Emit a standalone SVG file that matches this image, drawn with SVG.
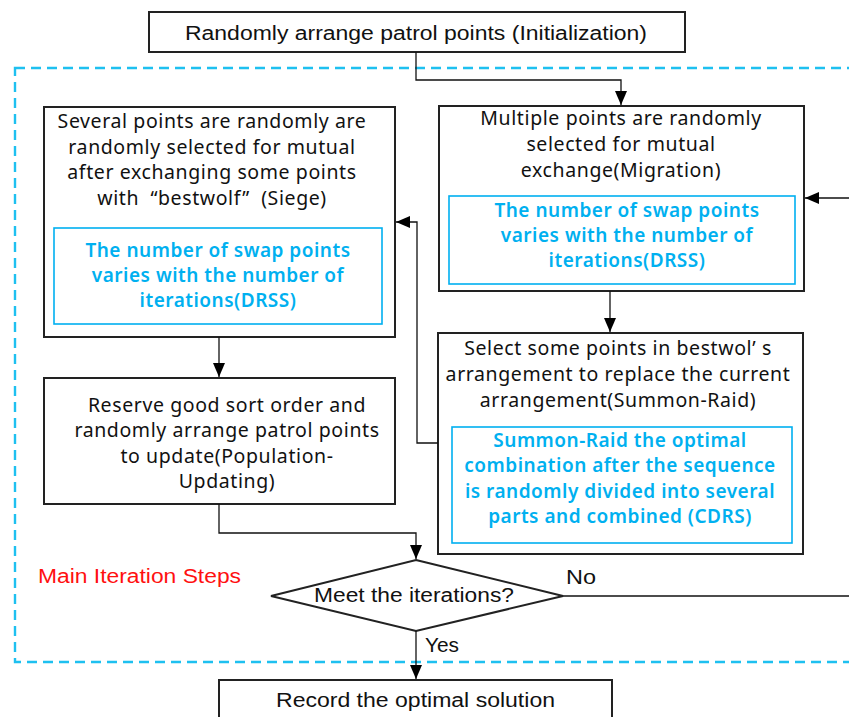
<svg xmlns="http://www.w3.org/2000/svg" width="849" height="717" viewBox="0 0 849 717">
<style>
.box{fill:#fff;stroke:#222;stroke-width:2}
.inner{fill:none;stroke:#00b0f0;stroke-width:1.6}
.t{font-family:"Noto Sans","Open Sans",sans-serif;font-size:19.5px;letter-spacing:0.6px;fill:#111;text-anchor:middle}
.b{font-family:"Noto Sans","Open Sans",sans-serif;font-size:19px;letter-spacing:0.5px;font-weight:600;fill:#00b0f0;text-anchor:middle}
.n{font-family:"Liberation Sans",Arial,sans-serif;font-size:20px;fill:#111}
.ln{fill:none;stroke:#111;stroke-width:1.3}
</style>
<defs>
<marker id="ahL" viewBox="0 0 14 12" refX="14" refY="6" markerWidth="14" markerHeight="12" markerUnits="userSpaceOnUse" orient="auto">
<path d="M0,0 L14,6 L0,12 z" fill="#000"/>
</marker>
</defs>

<rect x="15" y="68" width="850" height="594" fill="none" stroke="#1ec0f0" stroke-width="2.4" stroke-dasharray="10,6"/>

<g id="init">
<rect class="box" x="149" y="12" width="536" height="40"/>
<text class="n" x="185" y="40" textLength="462" lengthAdjust="spacingAndGlyphs" font-size="21">Randomly arrange patrol points (Initialization)</text>
</g>

<g id="siege">
<rect class="box" x="44" y="107" width="351" height="230"/>
<text class="t" x="212" y="128">Several points are randomly are</text>
<text class="t" x="212" y="154">randomly selected for mutual</text>
<text class="t" x="212" y="179">after exchanging some points</text>
<text class="t" x="212" y="205" xml:space="preserve">with  “bestwolf”  (Siege)</text>
<rect class="inner" x="54" y="228" width="328" height="96"/>
<text class="b" x="218" y="257">The number of swap points</text>
<text class="b" x="218" y="282">varies with the number of</text>
<text class="b" x="218" y="307">iterations(DRSS)</text>
</g>

<g id="migration">
<rect class="box" x="439" y="106" width="365" height="185"/>
<text class="t" x="621" y="125">Multiple points are randomly</text>
<text class="t" x="621" y="151">selected for mutual</text>
<text class="t" x="621" y="177">exchange(Migration)</text>
<rect class="inner" x="449" y="196" width="346" height="88"/>
<text class="b" x="627" y="217">The number of swap points</text>
<text class="b" x="627" y="242">varies with the number of</text>
<text class="b" x="627" y="267">iterations(DRSS)</text>
</g>

<g id="summon">
<rect class="box" x="438" y="333" width="365" height="221"/>
<text class="t" x="618" y="355">Select some points in bestwol’ s</text>
<text class="t" x="618" y="381">arrangement to replace the current</text>
<text class="t" x="618" y="407">arrangement(Summon-Raid)</text>
<rect class="inner" x="452" y="427" width="340" height="116"/>
<text class="b" x="620" y="447">Summon-Raid the optimal</text>
<text class="b" x="620" y="472">combination after the sequence</text>
<text class="b" x="620" y="498">is randomly divided into several</text>
<text class="b" x="620" y="523">parts and combined (CDRS)</text>
</g>

<g id="update">
<rect class="box" x="44" y="378" width="351" height="126"/>
<text class="t" x="227" y="412">Reserve good sort order and</text>
<text class="t" x="227" y="437">randomly arrange patrol points</text>
<text class="t" x="227" y="463">to update(Population-</text>
<text class="t" x="227" y="488">Updating)</text>
</g>

<g id="decision">
<polygon points="416,560 563,596 416,631 271,596" fill="#fff" stroke="#222" stroke-width="2"/>
<text class="n" x="314" y="602" textLength="200" lengthAdjust="spacingAndGlyphs">Meet the iterations?</text>
</g>

<g id="record">
<rect class="box" x="219" y="680" width="393" height="50"/>
<text class="n" x="276" y="707" textLength="279" lengthAdjust="spacingAndGlyphs">Record the optimal solution</text>
</g>

<g id="label">
<text class="n" x="38" y="583" style="fill:#ff1010" textLength="203" lengthAdjust="spacingAndGlyphs">Main Iteration Steps</text>
</g>

<g id="connectors">
<polyline class="ln" points="416,52 416,80 621,80 621,105" marker-end="url(#ahL)"/>
<line class="ln" x1="849" y1="198" x2="805" y2="198" marker-end="url(#ahL)"/>
<line class="ln" x1="610" y1="291" x2="610" y2="332" marker-end="url(#ahL)"/>
<polyline class="ln" points="438,443 417,443 417,222 396,222" marker-end="url(#ahL)"/>
<line class="ln" x1="219" y1="337" x2="219" y2="377" marker-end="url(#ahL)"/>
<polyline class="ln" points="219,504 219,533 416,533 416,559" marker-end="url(#ahL)"/>
<line class="ln" x1="563" y1="596" x2="849" y2="596"/>
<line class="ln" x1="416" y1="631" x2="416" y2="679" marker-end="url(#ahL)"/>
<text class="n" x="566" y="584" textLength="30" lengthAdjust="spacingAndGlyphs">No</text>
<text class="n" x="425" y="652" textLength="34" lengthAdjust="spacingAndGlyphs">Yes</text>
</g>
</svg>
